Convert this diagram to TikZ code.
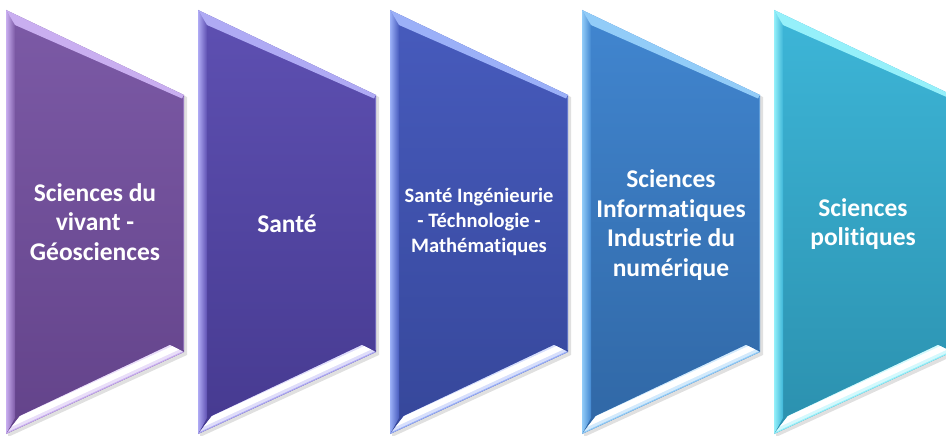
\documentclass[tikz,border=0pt]{standalone}
\usepackage{fontspec}
\setmainfont{Carlito}[Ligatures={NoCommon}]
\definecolor{c1t}{HTML}{7C5AA6}\definecolor{c1b}{HTML}{63438A}\definecolor{c1l}{HTML}{C9AEF0}
\definecolor{c2t}{HTML}{5E50B2}\definecolor{c2b}{HTML}{463A90}\definecolor{c2l}{HTML}{AFAAF4}
\definecolor{c3t}{HTML}{475BBD}\definecolor{c3b}{HTML}{36479A}\definecolor{c3l}{HTML}{9BB0F8}
\definecolor{c4t}{HTML}{4186D0}\definecolor{c4b}{HTML}{3067A5}\definecolor{c4l}{HTML}{92CCF8}
\definecolor{c5t}{HTML}{3DB6D8}\definecolor{c5b}{HTML}{2B90AE}\definecolor{c5l}{HTML}{95F0FA}
\tikzset{
  lbl/.style={text=white,font=\bfseries\fontsize{25.5}{29.5}\selectfont,align=center,inner sep=0pt},
  lblsmall/.style={lbl,font=\bfseries\fontsize{20.5}{25}\selectfont}
}
\begin{document}
\begin{tikzpicture}[x=1pt,y=-1pt]
\useasboundingbox (0,0) rectangle (946,436);
\clip (0,0) rectangle (946,436);
\foreach \i/\L in {1/6,2/198,3/390,4/582,5/774}{
  % shadow
  \fill[black,opacity=0.12] (\L+2,12) -- (\L+181,97) -- (\L+181,355) -- (\L+2,437) -- cycle;
  % body
  \shade[top color=c\i t, bottom color=c\i b] (\L,10) -- (\L+178,95) -- (\L+178,352) -- (\L,434) -- cycle;
  % left bevel
  \shade[left color=c\i l, right color=c\i t] (\L,10) -- (\L+9,25) -- (\L+9,418) -- (\L,434) -- cycle;
  % top bevel
  \fill[c\i l] (\L,10) -- (\L+178,95) -- (\L+176,98.5) -- (\L+9,25) -- cycle;
  % right edge
  \draw[c\i l,opacity=0.4,line width=1pt] (\L+177.5,97) -- (\L+177.5,350);
  % bottom bevel
  \begin{scope}
    \clip (\L,434) -- (\L+14,416) -- (\L+164,345) -- (\L+178,352) -- cycle;
    \fill[c\i l] (\L,434) -- (\L+14,416) -- (\L+164,345) -- (\L+178,352) -- cycle;
    \draw[white,opacity=0.6,line width=12pt] (\L,426) -- (\L+178,344);
    \draw[white,line width=6pt] (\L,426) -- (\L+178,344);
    \draw[c\i t,opacity=0.7,line width=4pt] (\L,416) -- (\L+178,334);
  \end{scope}
}
\node[lbl] (t1) at (95,222) {Sciences du\\vivant -\\Géosciences};
\node[lbl] (t2) at (287,224) {Santé};
\node[lblsmall] (t3) at (479,222) {Santé Ingénieurie\\- Téchnologie -\\Mathématiques};
\node[lbl] (t4) at (671,225) {Sciences\\Informatiques\\Industrie du\\numérique};
\node[lbl] (t5) at (863,224) {Sciences\\politiques};
\end{tikzpicture}
\end{document}
